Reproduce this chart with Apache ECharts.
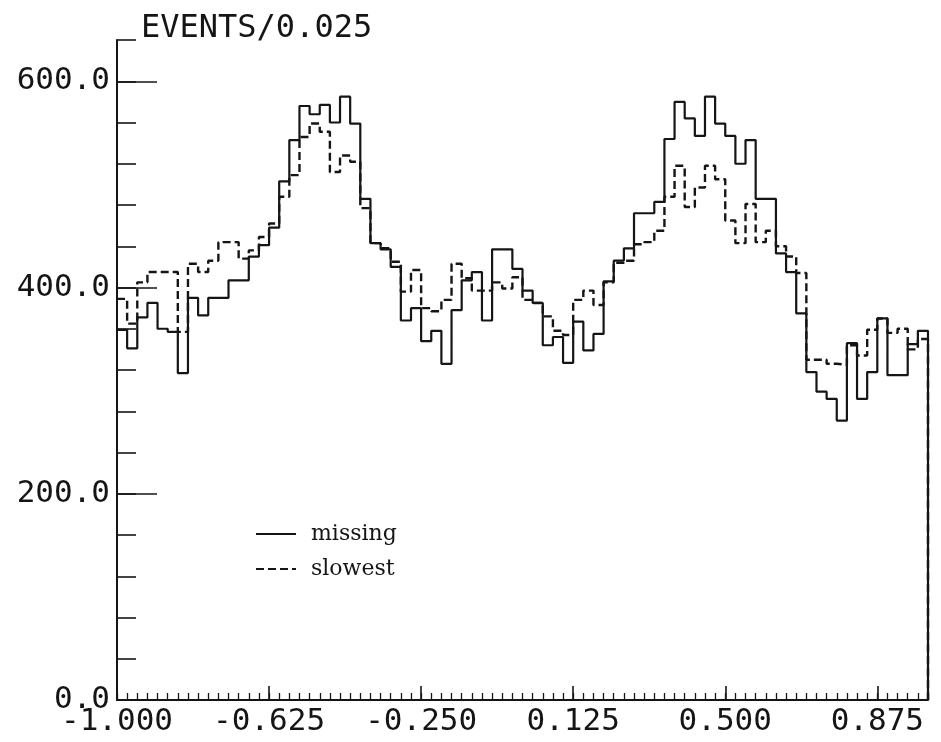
<!DOCTYPE html>
<html>
<head>
<meta charset="utf-8">
<script src="https://cdn.jsdelivr.net/npm/echarts@6/dist/echarts.min.js"></script>
<style>
html,body{margin:0;padding:0;background:#fff;}
#chart{width:941px;height:742px;}
</style>
</head>
<body>
<div id="chart"></div>
<script>
// ---- data ----
const binStart = -1.0;
const binWidth = 0.025;
const missing = [
  359, 341, 371, 385, 360, 357, 317, 390, 373, 390,
  390, 407, 407, 430, 441, 458, 503, 543, 576, 568,
  577, 560, 585, 559, 486, 443, 437, 420, 368, 380,
  348, 358, 326, 378, 407, 415, 368, 437, 437, 418,
  397, 385, 344, 352, 327, 367, 339, 355, 406, 426,
  438, 472, 472, 483, 544, 580, 564, 547, 585, 559,
  547, 520, 543, 486, 486, 433, 415, 375, 318, 299,
  292, 271, 346, 292, 318, 370, 315, 315, 345, 358
];
const slowest = [
  389, 365, 405, 415, 415, 415, 357, 423, 415, 426,
  444, 444, 428, 436, 449, 462, 488, 509, 546, 559,
  551, 512, 528, 522, 477, 443, 438, 425, 396, 417,
  380, 377, 388, 423, 409, 397, 397, 405, 399, 410,
  388, 385, 372, 358, 354, 388, 397, 383, 405, 424,
  426, 442, 444, 455, 488, 518, 478, 497, 518, 505,
  465, 443, 481, 444, 455, 440, 430, 414, 330, 330,
  326, 325, 344, 334, 359, 370, 356, 360, 340, 350
];
const xTickLabels = [-1.0, -0.625, -0.25, 0.125, 0.5, 0.875];
const yTickLabels = [0, 200, 400, 600];
const xRange = [-1.0, 1.0];
const yRange = [0, 640];
const yMinorStep = 40;
const titleText = 'EVENTS/0.025';
const seriesNames = ['missing', 'slowest'];

// ---- build histogram step data ----
function histData(vals) {
  const d = vals.map((v, i) => [binStart + i * binWidth, v]);
  const endX = binStart + vals.length * binWidth;
  d.push([endX, vals[vals.length - 1]]);
  d.push([endX, 0]);
  return d;
}

const ink = '#151515';
const mono = '"DejaVu Sans Mono", monospace';
const chart = echarts.init(document.getElementById('chart'));
chart.setOption({
  backgroundColor: '#ffffff',
  animation: false,
  title: {
    text: titleText,
    left: 136, top: 8,
    textStyle: { fontFamily: mono, fontSize: 32, fontWeight: 'normal', color: ink }
  },
  legend: {
    orient: 'vertical',
    left: 250, top: 518,
    itemWidth: 40, itemHeight: 14, itemGap: 13,
    itemStyle: { opacity: 0 },
    textStyle: { fontFamily: '"DejaVu Serif", serif', fontSize: 22, color: ink, padding: [0, 0, 0, 10] },
    data: seriesNames
  },
  grid: { left: 117, right: 13, top: 40, bottom: 42 },
  xAxis: [
    {
      type: 'value', min: xRange[0], max: xRange[1],
      axisLine: { show: true, onZero: false, lineStyle: { color: ink, width: 2 } },
      axisTick: { show: true, inside: true, length: 14, customValues: xTickLabels, lineStyle: { color: ink, width: 1.6 } },
      axisLabel: { customValues: xTickLabels, margin: 6, fontFamily: mono, fontSize: 31, color: ink,
        formatter: v => v.toFixed(3) },
      splitLine: { show: false }
    },
    {
      type: 'value', min: xRange[0], max: xRange[1], interval: binWidth, position: 'bottom',
      axisLine: { show: false, onZero: false },
      axisTick: { show: true, inside: true, length: 7, lineStyle: { color: ink, width: 1.3 } },
      axisLabel: { show: false },
      splitLine: { show: false }
    }
  ],
  yAxis: [
    {
      type: 'value', min: yRange[0], max: yRange[1],
      axisLine: { show: true, onZero: false, lineStyle: { color: ink, width: 2 } },
      axisTick: { show: true, inside: true, length: 40, customValues: yTickLabels, lineStyle: { color: ink, width: 1.6 } },
      axisLabel: { customValues: yTickLabels, margin: 7, fontFamily: mono, fontSize: 31, color: ink,
        formatter: v => v.toFixed(1) },
      splitLine: { show: false }
    },
    {
      type: 'value', min: yRange[0], max: yRange[1], interval: yMinorStep, position: 'left',
      axisLine: { show: false, onZero: false },
      axisTick: { show: true, inside: true, length: 19, lineStyle: { color: ink, width: 1.6 } },
      axisLabel: { show: false },
      splitLine: { show: false }
    }
  ],
  series: [
    {
      name: seriesNames[1], type: 'line', step: 'end', symbol: 'none',
      xAxisIndex: 0, yAxisIndex: 0,
      lineStyle: { color: ink, width: 2.4, type: [8, 4] },
      itemStyle: { color: ink },
      data: histData(slowest), z: 2
    },
    {
      name: seriesNames[0], type: 'line', step: 'end', symbol: 'none',
      xAxisIndex: 0, yAxisIndex: 0,
      lineStyle: { color: ink, width: 2.2, type: 'solid' },
      itemStyle: { color: ink },
      data: histData(missing), z: 3
    }
  ]
});
</script>
</body>
</html>
